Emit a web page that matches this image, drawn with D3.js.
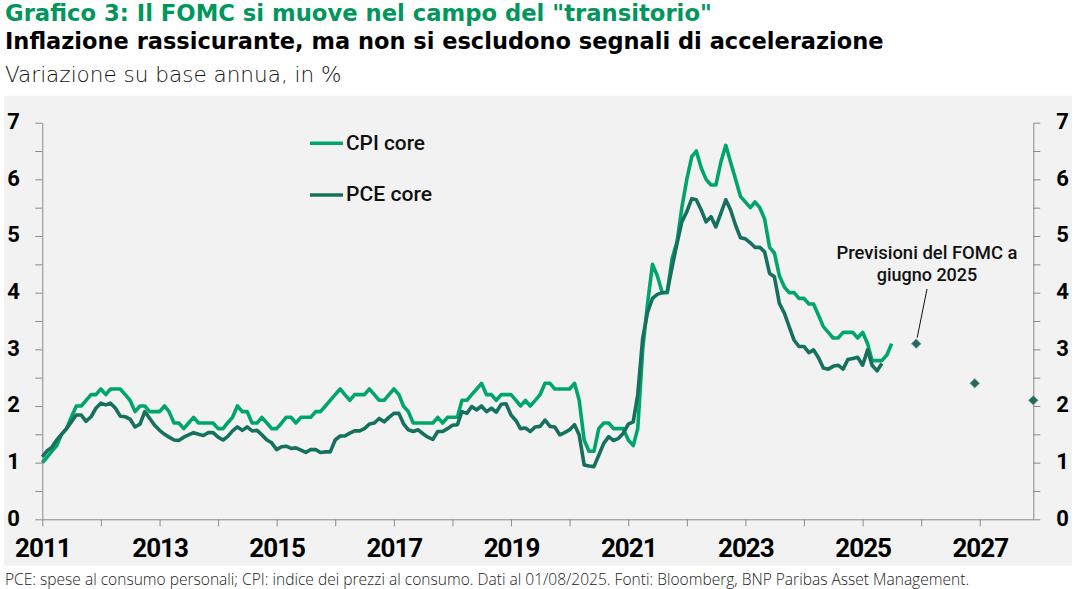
<!DOCTYPE html>
<html><head><meta charset="utf-8">
<script src="https://cdn.jsdelivr.net/npm/d3@7"></script>
<style>body{margin:0;background:#fff} svg{display:block}</style>
</head><body><svg id="c" width="1074" height="589"></svg>
<script>
// ---- DATA ----
const seriesStart = "2011-01";
const cpiCore = [
 1.0,1.1,1.2,1.3,1.5,1.6,1.8,2.0,2.0,2.1,2.2,2.2,
 2.3,2.2,2.3,2.3,2.3,2.2,2.1,1.9,2.0,2.0,1.9,1.9,
 1.9,2.0,1.9,1.7,1.7,1.6,1.7,1.8,1.7,1.7,1.7,1.7,
 1.6,1.6,1.7,1.8,2.0,1.9,1.9,1.7,1.7,1.8,1.7,1.6,
 1.6,1.7,1.8,1.8,1.7,1.8,1.8,1.8,1.9,1.9,2.0,2.1,
 2.2,2.3,2.2,2.1,2.2,2.2,2.2,2.3,2.2,2.1,2.1,2.2,
 2.3,2.2,2.0,1.9,1.7,1.7,1.7,1.7,1.7,1.8,1.7,1.8,
 1.8,1.8,2.1,2.1,2.2,2.3,2.4,2.2,2.2,2.1,2.2,2.2,
 2.2,2.1,2.0,2.1,2.0,2.1,2.2,2.4,2.4,2.3,2.3,2.3,
 2.3,2.4,2.1,1.4,1.2,1.2,1.6,1.7,1.7,1.6,1.6,1.6,
 1.4,1.3,1.6,3.0,3.8,4.5,4.3,4.0,4.0,4.6,4.9,5.5,
 6.0,6.4,6.5,6.2,6.0,5.9,5.9,6.3,6.6,6.3,6.0,5.7,
 5.6,5.5,5.6,5.5,5.3,4.8,4.7,4.3,4.1,4.0,4.0,3.9,
 3.9,3.8,3.8,3.6,3.4,3.3,3.2,3.2,3.3,3.3,3.3,3.2,
 3.3,3.1,2.8,2.8,2.8,2.9,3.1
];
const pceCore = [
 1.10,1.21,1.27,1.40,1.50,1.60,1.72,1.84,1.84,1.73,1.81,1.96,
 2.05,2.02,2.05,1.96,1.82,1.81,1.77,1.63,1.68,1.90,1.78,1.66,
 1.57,1.50,1.45,1.40,1.39,1.45,1.49,1.53,1.50,1.48,1.53,1.53,
 1.45,1.40,1.46,1.56,1.63,1.57,1.63,1.56,1.57,1.49,1.40,1.35,
 1.23,1.28,1.29,1.25,1.26,1.22,1.18,1.23,1.23,1.18,1.19,1.19,
 1.40,1.47,1.47,1.52,1.56,1.56,1.60,1.68,1.70,1.78,1.72,1.80,
 1.87,1.87,1.69,1.58,1.55,1.58,1.51,1.45,1.41,1.55,1.55,1.60,
 1.66,1.67,1.90,1.87,1.99,1.93,2.00,1.90,1.96,1.89,2.03,2.04,
 1.84,1.74,1.60,1.61,1.55,1.63,1.64,1.75,1.64,1.63,1.49,1.53,
 1.58,1.67,1.49,0.96,0.94,0.93,1.13,1.34,1.46,1.39,1.43,1.52,
 1.68,1.72,2.20,3.20,3.65,3.90,3.97,4.00,4.02,4.45,4.87,5.25,
 5.43,5.66,5.64,5.46,5.25,5.34,5.16,5.40,5.64,5.46,5.19,4.97,
 4.95,4.88,4.80,4.80,4.72,4.34,4.28,3.81,3.64,3.40,3.16,3.05,
 3.05,2.94,2.99,2.85,2.67,2.65,2.70,2.72,2.65,2.82,2.84,2.86,
 2.72,2.99,2.72,2.62,2.75
];
const fomcDates = ["2025-12","2026-12","2027-12"];
const fomcValues = [3.1, 2.4, 2.1];
const yTickValues = [0,0.5,1,1.5,2,2.5,3,3.5,4,4.5,5,5.5,6,6.5,7];
const xTickYears = [2011,2012,2013,2014,2015,2016,2017,2018,2019,2020,2021,2022,2023,2024,2025,2026,2027];
const xLabelYears = [2011,2013,2015,2017,2019,2021,2023,2025,2027];
const legendLabels = ["CPI core","PCE core"];
const titleText = "Grafico 3: Il FOMC si muove nel campo del \"transitorio\"";
const subtitleText = "Inflazione rassicurante, ma non si escludono segnali di accelerazione";
const unitText = "Variazione su base annua, in %";
const annotLines = ["Previsioni del FOMC a","giugno 2025"];
const footerText = "PCE: spese al consumo personali; CPI: indice dei prezzi al consumo. Dati al 01/08/2025. Fonti: Bloomberg, BNP Paribas Asset Management.";

// ---- STYLE ----
const C_CPI = "#00a56b", C_PCE = "#16705e", C_TITLE = "#00965c", C_AXIS = "#8a8a8a";
const svg = d3.select("#c");
const parseM = d3.timeParse("%Y-%m");
const monthDate = (start, i) => { const d = parseM(start); return new Date(d.getFullYear(), d.getMonth()+i, 1); };

const L = 42.3, R = 1033.3, T = 122.7, B = 519.3;
const x = d3.scaleTime().domain([new Date(2011,0,1), new Date(2027,11,1)]).range([L, R]);
const y = d3.scaleLinear().domain([0,7]).range([B, T]);

function fit(sel, target){
  const w = sel.node().getComputedTextLength();
  const fs = parseFloat(sel.attr("font-size"));
  sel.attr("font-size", (fs*target/w).toFixed(2));
}

// background
svg.append("rect").attr("x",4).attr("y",95.7).attr("width",1068).attr("height",470).attr("fill","#f2f2f2");

// titles
const t1 = svg.append("text").attr("x",5).attr("y",21.3).attr("font-family","'DejaVu Sans'").attr("font-weight","bold")
  .attr("font-size",20).attr("fill",C_TITLE).text(titleText); fit(t1, 707);
const t2 = svg.append("text").attr("x",5).attr("y",48.6).attr("font-family","'DejaVu Sans'").attr("font-weight","bold")
  .attr("font-size",20).attr("fill","#000").text(subtitleText); fit(t2, 879);
const t3 = svg.append("text").attr("x",5).attr("y",81.5).attr("font-family","'DejaVu Sans'").attr("font-weight",200)
  .attr("font-size",18).attr("fill","#111").text(unitText); fit(t3, 336.7);
const ft = svg.append("text").attr("x",5).attr("y",584.5).attr("font-family","'Open Sans'").attr("font-weight",300)
  .attr("font-size",13).attr("fill","#222").text(footerText); fit(ft, 964);

// axes
const xAxis = d3.axisBottom(x).tickValues(xTickYears.map(yr => new Date(yr,0,1))).tickSize(7).tickSizeOuter(0)
  .tickFormat(d => xLabelYears.includes(d.getFullYear()) ? d.getFullYear() : "");
const gx = svg.append("g").attr("transform",`translate(0,${B})`).call(xAxis);
gx.selectAll("text").attr("y",37.4).attr("dy",null).attr("font-family","Roboto").attr("font-weight","bold")
  .attr("font-size",26).attr("letter-spacing","-1px").attr("fill","#000");

const yL = d3.axisLeft(y).tickValues(yTickValues).tickSize(7).tickSizeOuter(0)
  .tickFormat(d => Number.isInteger(d) ? d : "");
const gyl = svg.append("g").attr("transform",`translate(${L},0)`).call(yL);
gyl.selectAll("text").attr("x",-35).attr("dy",null).attr("y",5.8).attr("text-anchor","start")
  .attr("font-family","Roboto").attr("font-weight","bold").attr("font-size",22).attr("fill","#000");

const yR = d3.axisRight(y).tickValues(yTickValues).tickSize(7).tickSizeOuter(0)
  .tickFormat(d => Number.isInteger(d) ? d : "");
const gyr = svg.append("g").attr("transform",`translate(${R},0)`).call(yR);
gyr.selectAll("text").attr("x",23).attr("dy",null).attr("y",5.8).attr("text-anchor","start")
  .attr("font-family","Roboto").attr("font-weight","bold").attr("font-size",22).attr("fill","#000");

[gx,gyl,gyr].forEach(g => { g.select(".domain").attr("stroke",C_AXIS); g.selectAll(".tick line").attr("stroke",C_AXIS); g.attr("font-family",null); });

// lines
const line = d3.line().x(d => x(d.date)).y(d => y(d.value));
const cpiData = cpiCore.map((v,i) => ({date: monthDate(seriesStart,i), value: v}));
const pceData = pceCore.map((v,i) => ({date: monthDate(seriesStart,i), value: v}));
svg.append("path").datum(cpiData).attr("d",line).attr("fill","none").attr("stroke",C_CPI)
  .attr("stroke-width",3.6).attr("stroke-linejoin","round");
svg.append("path").datum(pceData).attr("d",line).attr("fill","none").attr("stroke",C_PCE)
  .attr("stroke-width",3.6).attr("stroke-linejoin","round");

// FOMC projections
const sym = d3.symbol().type(d3.symbolSquare).size(46);
svg.selectAll("path.fomc").data(fomcDates.map((d,i)=>({date: parseM(d), value: fomcValues[i]})))
  .enter().append("path").attr("class","fomc").attr("d",sym)
  .attr("transform",d => `translate(${x(d.date)},${y(d.value)}) rotate(45)`)
  .attr("fill","#22695f").attr("stroke","#8aa8a2").attr("stroke-width",0.8);

// annotation
const ax = 927;
annotLines.forEach((s,i) => {
  const t = svg.append("text").attr("x",ax).attr("y",258.5 + i*22.5).attr("text-anchor","middle")
    .attr("font-family","Roboto").attr("font-weight",500).attr("font-size",18).attr("fill","#111").text(s);
  if (i === 0) fit(t, 181);
});
const p0 = {date: parseM(fomcDates[0]), value: fomcValues[0]};
svg.append("line").attr("x1",ax).attr("y1",289).attr("x2",x(p0.date)+1).attr("y2",y(p0.value)-6)
  .attr("stroke","#111").attr("stroke-width",1);

// legend
const legColors = [C_CPI, C_PCE];
legendLabels.forEach((s,i) => {
  const ly = 143.3 + i*51.7;
  svg.append("line").attr("x1",310).attr("x2",343).attr("y1",ly).attr("y2",ly).attr("stroke",legColors[i]).attr("stroke-width",3.6);
  const t = svg.append("text").attr("x",346).attr("y",ly+6.4).attr("font-family","Roboto").attr("font-weight",500)
    .attr("font-size",20.5).attr("fill","#111").text(s);
  fit(t, i === 0 ? 79 : 86);
});
</script></body></html>
